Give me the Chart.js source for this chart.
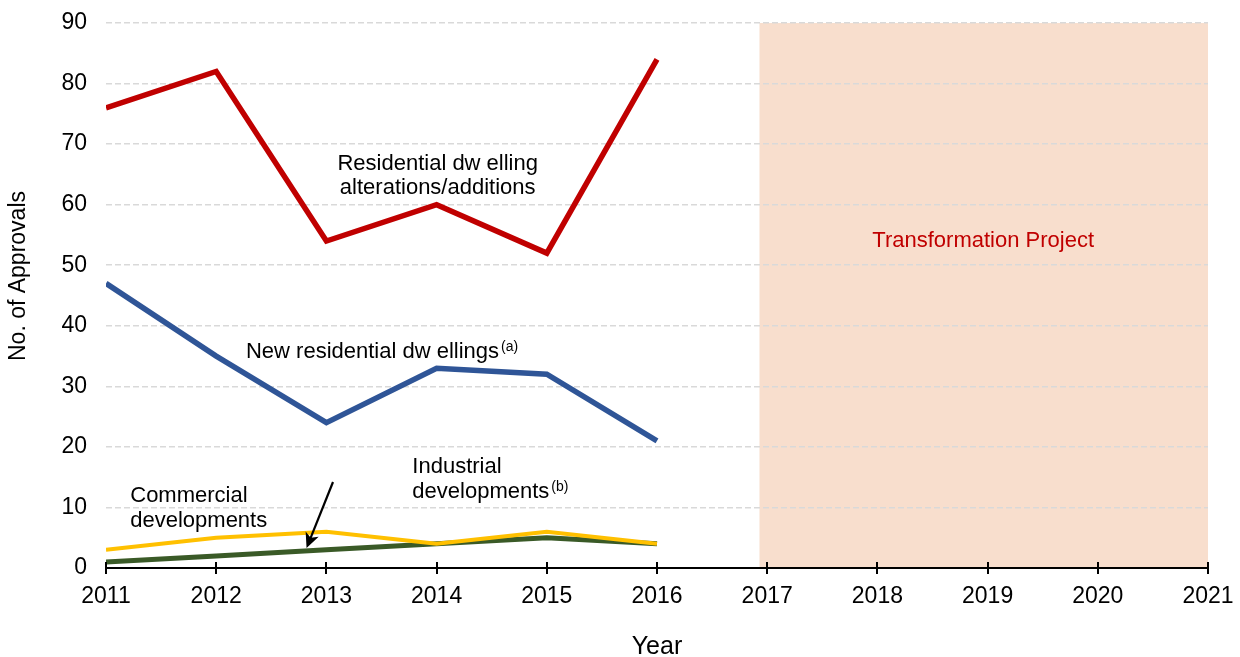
<!DOCTYPE html>
<html lang="en">
<head>
  <meta charset="UTF-8" />
  <title>Development approvals</title>
  <script src="https://cdn.jsdelivr.net/npm/chart.js"></script>
  <style>
    html, body { margin: 0; padding: 0; background: #fff; }
    #wrap { width: 1240px; height: 657px; }
  </style>
</head>
<body>
<div id="wrap"><canvas id="chart"></canvas></div>
<script>
  // data
  const years = [2011, 2012, 2013, 2014, 2015, 2016];
  const alterations = [76, 82, 54, 60, 52, 84];
  const newDwellings = [47, 35, 24, 33, 32, 21];
  const commercial = [3, 5, 6, 4, 6, 4];
  const industrial = [1, 2, 3, 4, 5, 4];
  const yTicks = [0, 10, 20, 30, 40, 50, 60, 70, 80, 90];
  const projectStart = 2016.93;
  const projectEnd = 2021;

  const FONT = '"Liberation Sans", Arial, sans-serif';

  const pts = vals => vals.map((v, i) => ({ x: years[i], y: v }));

  const line = (label, vals, color, w) => ({
    label,
    data: pts(vals),
    borderColor: color,
    backgroundColor: color,
    borderWidth: w,
    pointRadius: 0,
    tension: 0,
    borderJoinStyle: 'miter',
    fill: false
  });

  // shaded band behind the grid
  const shade = {
    id: 'shade',
    beforeDraw(chart) {
      const { ctx, chartArea, scales: { x } } = chart;
      const l = x.getPixelForValue(projectStart);
      const r = x.getPixelForValue(projectEnd);
      ctx.save();
      ctx.fillStyle = '#F8DECD';
      ctx.fillRect(l, chartArea.top, r - l, chartArea.bottom - chartArea.top);
      ctx.restore();
    }
  };

  // text labels, tick marks, axis titles and the arrow
  const notes = {
    id: 'notes',
    afterDraw(chart) {
      const { ctx, chartArea, scales: { x, y } } = chart;
      const px = v => x.getPixelForValue(v);
      const py = v => y.getPixelForValue(v);
      ctx.save();

      // x tick marks crossing the axis line
      ctx.strokeStyle = '#000';
      ctx.lineWidth = 2;
      x.ticks.forEach(t => {
        const tx = Math.round(px(t.value));
        ctx.beginPath();
        ctx.moveTo(tx, chartArea.bottom - 6);
        ctx.lineTo(tx, chartArea.bottom + 6);
        ctx.stroke();
      });

      // axis titles
      ctx.fillStyle = '#000';
      ctx.textAlign = 'center';
      ctx.textBaseline = 'middle';
      ctx.font = '25px ' + FONT;
      ctx.fillText('Year', (chartArea.left + chartArea.right) / 2, chartArea.bottom + 79);
      ctx.save();
      ctx.translate(19, 276);
      ctx.rotate(-Math.PI / 2);
      ctx.font = '23px ' + FONT;
      ctx.fillText('No. of Approvals', 0, 0);
      ctx.restore();

      function text(str, xv, yv, align, sup) {
        ctx.textAlign = align;
        ctx.font = '22px ' + FONT;
        ctx.fillText(str, px(xv), py(yv));
        if (sup) {
          const w = ctx.measureText(str).width;
          ctx.textAlign = 'left';
          ctx.font = '14px ' + FONT;
          ctx.fillText(sup, px(xv) + w + 2, py(yv) - 5);
        }
      }

      text('Residential dw elling', 2014.01, 66.7, 'center');
      text('alterations/additions', 2014.01, 62.7, 'center');
      text('New residential dw ellings', 2012.27, 35.6, 'left', '(a)');
      text('Commercial', 2011.22, 11.9, 'left');
      text('developments', 2011.22, 7.8, 'left');
      text('Industrial', 2013.78, 16.7, 'left');
      text('developments', 2013.78, 12.5, 'left', '(b)');

      ctx.fillStyle = '#C00000';
      text('Transformation Project', 2018.96, 54, 'center');

      // arrow
      const x1 = px(2013.06), y1 = py(14.2);
      const x2 = px(2012.82), y2 = py(3.3);
      ctx.strokeStyle = '#000';
      ctx.fillStyle = '#000';
      ctx.lineWidth = 2.2;
      const a = Math.atan2(y2 - y1, x2 - x1);
      const L = 15, W = 7;
      ctx.beginPath();
      ctx.moveTo(x1, y1);
      ctx.lineTo(x2 - 8 * Math.cos(a), y2 - 8 * Math.sin(a));
      ctx.stroke();
      const bx = x2 - L * Math.cos(a), by = y2 - L * Math.sin(a);
      const nx = x2 - (L - 4) * Math.cos(a), ny = y2 - (L - 4) * Math.sin(a);
      ctx.beginPath();
      ctx.moveTo(x2, y2);
      ctx.lineTo(bx + W * Math.sin(a), by - W * Math.cos(a));
      ctx.lineTo(nx, ny);
      ctx.lineTo(bx - W * Math.sin(a), by + W * Math.cos(a));
      ctx.closePath();
      ctx.fill();
      ctx.restore();
    }
  };

  new Chart(document.getElementById('chart'), {
    type: 'line',
    data: {
      datasets: [
        line('Commercial developments', commercial, '#FFC000', 4),
        line('Industrial developments', industrial, '#3A5A27', 5),
        line('New residential dwellings', newDwellings, '#2F5597', 5.5),
        line('Residential dwelling alterations/additions', alterations, '#C00000', 5.5)
      ]
    },
    options: {
      responsive: true,
      maintainAspectRatio: false,
      animation: false,
      layout: { padding: { top: 23, right: 32, left: 0, bottom: 0 } },
      plugins: { legend: { display: false }, tooltip: { enabled: false } },
      scales: {
        x: {
          type: 'linear',
          min: 2011,
          max: 2021,
          afterFit: axis => {
            axis.height = 89;
            axis.paddingLeft = 0;
            axis.paddingRight = 0;
          },
          ticks: {
            stepSize: 1,
            color: '#000',
            font: { family: FONT, size: 23 },
            padding: 15,
            maxRotation: 0,
            callback: v => String(v)
          },
          grid: {
            drawOnChartArea: false,
            drawTicks: false
          },
          border: { display: true, color: '#000', width: 2 },
          title: { display: false }
        },
        y: {
          min: 0,
          max: 90,
          afterFit: axis => {
            axis.width = 106;
            axis.paddingTop = 0;
            axis.paddingBottom = 0;
          },
          afterBuildTicks: axis => { axis.ticks = yTicks.map(v => ({ value: v })); },
          ticks: {
            color: '#000',
            font: { family: FONT, size: 23 },
            padding: 19
          },
          grid: {
            drawTicks: false,
            color: '#D9D9D9',
            lineWidth: 1.5
          },
          border: { display: false, dash: [6, 3] },
          title: { display: false }
        }
      }
    },
    plugins: [shade, notes]
  });
</script>
</body>
</html>
